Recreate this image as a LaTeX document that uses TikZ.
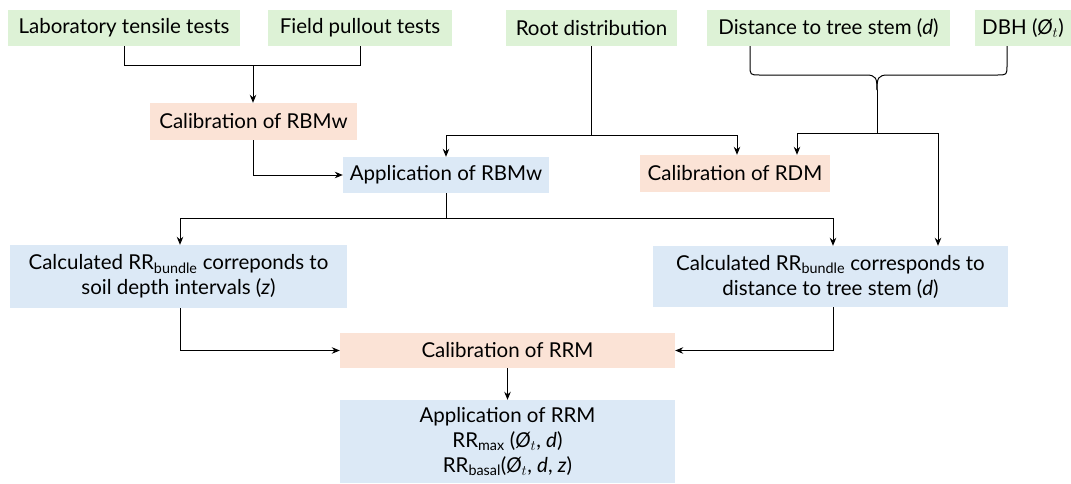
\documentclass[tikz,border=0pt]{standalone}
\usepackage{fontspec}
\setmainfont{Lato}
\usetikzlibrary{calc,arrows.meta}
\definecolor{gbox}{HTML}{DDF2D6}
\definecolor{obox}{HTML}{FBE3D6}
\definecolor{bbox}{HTML}{DCE9F6}
\tikzset{
  base/.style={inner sep=0pt, align=center, font=\fontsize{20.5}{25}\selectfont, text=black},
  gnode/.style={base, fill=gbox},
  onode/.style={base, fill=obox},
  bnode/.style={base, fill=bbox},
  con/.style={line width=1pt, black},
  arr/.style={con, -{Stealth[length=8pt,width=6.5pt]}},
}
\newcommand{\phit}{\textit{Ø}$_t$}
\begin{document}
\begin{tikzpicture}[x=1pt,y=-1pt]
\useasboundingbox (0,0) rectangle (1071,483);
\node[gnode, minimum width=232, minimum height=36] (lab) at (124,28) {Laboratory tensile tests};
\node[gnode, minimum width=184, minimum height=36] (field) at (360,28) {Field pullout tests};
\node[gnode, minimum width=171, minimum height=36] (root) at (591.5,28) {Root distribution};
\node[gnode, minimum width=243, minimum height=36] (dist) at (828.5,28) {Distance to tree stem (\textit{d})};
\node[gnode, minimum width=96, minimum height=36] (dbh) at (1023,28) {DBH (\phit)};
\node[onode, minimum width=207, minimum height=37] (calRBM) at (253.5,121.5) {Calibration of RBMw};
\node[bnode, minimum width=206, minimum height=36] (appRBM) at (446,175) {Application of RBMw};
\node[onode, minimum width=190, minimum height=37] (calRDM) at (735,173.5) {Calibration of RDM};
\node[bnode, minimum width=337, minimum height=63] (calcL) at (178.5,276.5) {Calculated RR\textsubscript{bundle} correponds to\\soil depth intervals (\textit{z})};
\node[bnode, minimum width=355, minimum height=61] (calcR) at (830.5,276.5) {Calculated RR\textsubscript{bundle} corresponds to\\distance to tree stem (\textit{d})};
\node[onode, minimum width=335, minimum height=35] (calRRM) at (507.5,350.5) {Calibration of RRM};
\node[bnode, minimum width=335, minimum height=83] (appRRM) at (507.5,441.5) {Application of RRM\\RR\textsubscript{max} (\phit, \textit{d})\\RR\textsubscript{basal}(\phit, \textit{d}, \textit{z})};

% top-left merge
\coordinate (j1) at (253,65);
\draw[con] (lab.south) |- (field.south |- j1) -- (field.south);
\draw[arr] (j1) -- (calRBM.north -| j1);
% calibration RBMw -> application RBMw
\draw[arr] (calRBM.south) |- (appRBM.west);
% root distribution split
\coordinate (j2) at (591.5,135);
\draw[con] (root.south) -- (j2);
\draw[arr] (j2) -| (appRBM.north);
\draw[arr] (j2) -| (calRDM.north -| 737,0);
% brace
\coordinate (bt) at (877,90);
\coordinate (j3) at (877,133);
\draw[con] (dist.south -| 750,0) -- (750,65) .. controls (750,75) .. (760,75) -- (866,75) .. controls (876,75) and (877,78) .. (bt);
\draw[con] (dbh.south -| 1007,0) -- (1007,65) .. controls (1007,75) .. (997,75) -- (888,75) .. controls (878,75) and (877,78) .. (bt);
\draw[con] (bt) -- (j3);
\draw[arr] (j3) -| (calRDM.north -| 797,0);
\draw[arr] (j3) -| (calcR.north -| 938,0);
% application RBMw split
\coordinate (j4) at (446,218);
\draw[con] (appRBM.south) -- (j4);
\draw[arr] (j4) -| (calcL.north -| 180,0);
\draw[arr] (j4) -| (calcR.north -| 833,0);
% to calibration RRM
\draw[arr] (calcL.south -| 180,0) |- (calRRM.west);
\draw[arr] (calcR.south -| 833,0) |- (calRRM.east);
\draw[arr] (calRRM.south) -- (appRRM.north);
\end{tikzpicture}
\end{document}
